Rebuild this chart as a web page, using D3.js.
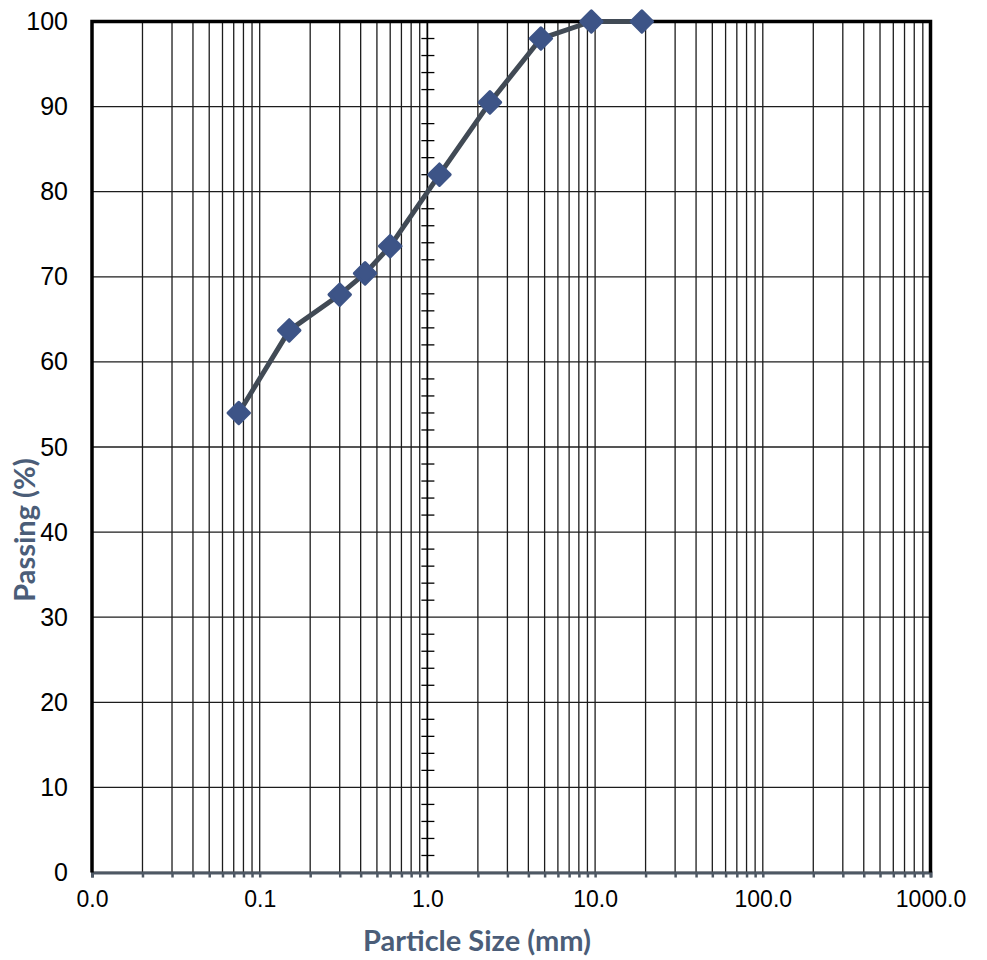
<!DOCTYPE html>
<html>
<head>
<style>
	body { margin: 0; background: #fff; }
	.tick-label { font-family: "Liberation Sans", Arial, sans-serif; fill: #000; }
	.title { font-family: Lato, "Open Sans", sans-serif; font-weight: bold; fill: #4b5d78; }
</style>
<script src="https://d3js.org/d3.v7.min.js"></script>
</head>
<body>
<script>
	// sieve sizes (mm) and percent passing
	var sizes   = [0.075, 0.15, 0.3, 0.425, 0.6, 1.18, 2.36, 4.75, 9.5, 19];
	var passing = [54.0, 63.7, 67.9, 70.4, 73.6, 82.0, 90.5, 98.0, 100, 100];

	var xMajor = [0.01, 0.1, 1, 10, 100, 1000];
	var xLabels = ["0.0", "0.1", "1.0", "10.0", "100.0", "1000.0"];
	var yTicks = [0, 10, 20, 30, 40, 50, 60, 70, 80, 90, 100];
	var yMinor = [2, 4, 6, 8, 12, 14, 16, 18, 22, 24, 26, 28, 32, 34, 36, 38, 42, 44, 46, 48,
	              52, 54, 56, 58, 62, 64, 66, 68, 72, 74, 76, 78, 82, 84, 86, 88, 92, 94, 96, 98];

	var width = 987, height = 960;
	var pLeft = 92, pRight = 930.5, pTop = 21.5, pBottom = 872.5;

	var svg = d3.select("body").append("svg")
		.attr("width", width)
		.attr("height", height);

	var x = d3.scaleLog().domain([0.01, 1000]).range([pLeft, pRight]);
	var y = d3.scaleLinear().domain([0, 100]).range([pBottom, pTop]);

	// every 1..9 x 10^k line
	var xGrid = [];
	xMajor.forEach(function(m, i) {
		if (i == xMajor.length - 1) { xGrid.push(m); return; }
		for (var k = 1; k <= 9; k++) xGrid.push(+(m * k).toPrecision(3));
	});

	svg.append("g").selectAll("line")
		.data(xGrid)
		.enter().append("line")
		.attr("x1", function(d) { return x(d); })
		.attr("x2", function(d) { return x(d); })
		.attr("y1", pTop).attr("y2", pBottom)
		.attr("stroke", "#1c1c1c")
		.attr("stroke-width", 1.3);

	svg.append("g").selectAll("line")
		.data(yTicks)
		.enter().append("line")
		.attr("x1", pLeft).attr("x2", pRight)
		.attr("y1", function(d) { return y(d); })
		.attr("y2", function(d) { return y(d); })
		.attr("stroke", "#1c1c1c")
		.attr("stroke-width", 1.3);

	// vertical axis crossing at 1.0 with minor ticks
	svg.append("line")
		.attr("x1", x(1)).attr("x2", x(1))
		.attr("y1", pTop).attr("y2", pBottom)
		.attr("stroke", "#000").attr("stroke-width", 1.6);
	svg.append("g").selectAll("line")
		.data(yMinor)
		.enter().append("line")
		.attr("x1", x(1) - 6).attr("x2", x(1) + 7)
		.attr("y1", function(d) { return y(d); })
		.attr("y2", function(d) { return y(d); })
		.attr("stroke", "#000").attr("stroke-width", 1.3);

	// bottom axis
	var xAxis = d3.axisBottom(x)
		.tickValues(xGrid)
		.tickSize(5)
		.tickPadding(13)
		.tickFormat(function(d) {
			var i = xMajor.indexOf(d);
			return i >= 0 ? xLabels[i] : "";
		});
	var gx = svg.append("g")
		.attr("transform", "translate(0," + pBottom + ")")
		.call(xAxis);
	gx.select(".domain").attr("stroke", "#4e5864").attr("stroke-width", 3);
	gx.selectAll(".tick line").attr("stroke", "#4e5864").attr("stroke-width", 2.5);
	gx.selectAll(".tick text").attr("class", "tick-label").style("font-size", "23px");

	var yAxis = d3.axisLeft(y).tickValues(yTicks).tickSize(0).tickPadding(24);
	var gy = svg.append("g")
		.attr("transform", "translate(" + pLeft + ",0)")
		.call(yAxis);
	gy.select(".domain").remove();
	gy.selectAll(".tick text").attr("class", "tick-label").style("font-size", "25px");

	// plot frame: left, top, right
	svg.append("path")
		.attr("d", "M" + pLeft + "," + pBottom + "V" + pTop + "H" + pRight + "V" + pBottom)
		.attr("fill", "none")
		.attr("stroke", "#000")
		.attr("stroke-width", 3.5);

	// gradation curve
	var pts = sizes.map(function(s, i) { return [s, passing[i]]; });
	svg.append("path")
		.datum(pts)
		.attr("fill", "none")
		.attr("stroke", "#414a55")
		.attr("stroke-width", 5)
		.attr("stroke-linejoin", "round")
		.attr("d", d3.line()
			.x(function(d) { return x(d[0]); })
			.y(function(d) { return y(d[1]); }));

	svg.append("g").selectAll("path")
		.data(pts)
		.enter().append("path")
		.attr("d", d3.symbol().type(d3.symbolSquare).size(230))
		.attr("transform", function(d) {
			return "translate(" + x(d[0]) + "," + y(d[1]) + ") rotate(45)";
		})
		.attr("fill", "#3d5487")
		.attr("stroke", "#3d5487")
		.attr("stroke-width", 3)
		.attr("stroke-linejoin", "round");

	// axis titles
	svg.append("text")
		.attr("class", "title")
		.attr("x", 477)
		.attr("y", 951)
		.attr("text-anchor", "middle")
		.style("font-size", "29px")
		.text("Particle Size (mm)");

	svg.append("text")
		.attr("class", "title")
		.attr("transform", "translate(35,530) rotate(-90)")
		.attr("text-anchor", "middle")
		.style("font-size", "29px")
		.text("Passing (%)");
</script>
</body>
</html>
